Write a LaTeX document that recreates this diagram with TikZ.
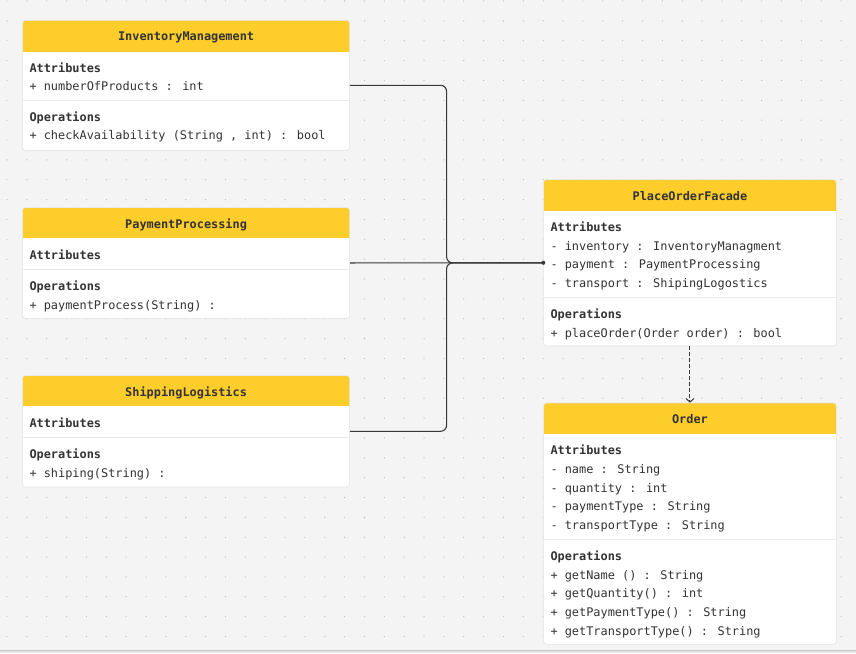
\documentclass[tikz,border=0pt]{standalone}
\usepackage{fontspec}
\newfontfamily\umlfont{DejaVu Sans Mono}
\usetikzlibrary{calc,arrows.meta}

\definecolor{canvas}{HTML}{F4F4F4}
\definecolor{gridDot}{HTML}{BDBDBD}
\definecolor{hdr}{HTML}{FDCD2B}
\definecolor{boxline}{HTML}{E3E3E3}
\definecolor{divline}{HTML}{EBEBEB}
\definecolor{ink}{HTML}{333333}
\definecolor{wire}{HTML}{383838}
\definecolor{footer}{HTML}{E4E4E4}

\tikzset{
  % class box: #1 height, #2 header height, #3 offset of the divider line
  umlclass/.style n args={3}{
    draw=boxline, line width=0.6pt, fill=white, rounded corners=3pt,
    anchor=north west, inner sep=0pt, minimum height=#1,
    path picture={
      \fill[hdr, sharp corners] (path picture bounding box.north west)
        rectangle ([yshift=-#2]path picture bounding box.north east);
      \draw[divline, line width=1pt, sharp corners]
        ([yshift=-#3]path picture bounding box.north west)
        -- ([yshift=-#3]path picture bounding box.north east);
    }},
  classtitle/.style={anchor=base, inner sep=0pt, text=ink,
    font=\umlfont\bfseries\fontsize{11.9}{14}\selectfont},
  heading/.style={anchor=base west, inner sep=0pt, text=ink,
    font=\umlfont\bfseries\fontsize{11.9}{14}\selectfont},
  member/.style={anchor=base west, inner sep=0pt, text=ink,
    font=\umlfont\fontsize{11.9}{14}\selectfont},
  wireline/.style={draw=wire, line width=1.1pt},
  usesdep/.style={draw=wire, line width=1pt, dash pattern=on 4pt off 2pt,
    -{Straight Barb[length=3.5pt,width=8pt]}},
}

% section heading of a class box: box, heading text, baseline offset
\newcommand\umlheading[3]{%
  \node[heading] (#1-#2) at ($(#1.north west)+(7,#3)$) {#2};}
% member lines below a heading: box, heading, heading offset, list
\newcommand\umllines[4]{%
  \foreach \t [count=\i] in {#4} {%
    \node[member] (#1-#2-\i) at ($(#1.north west)+(7,#3+18.7*\i)$) {\t};}}

\begin{document}
\begin{tikzpicture}[x=1pt,y=-1pt]
  \useasboundingbox (0,0) rectangle (856,653);

  % dotted canvas
  \fill[canvas] (0,0) rectangle (856,653);
  \foreach \i in {0,...,42} {
    \foreach \j in {0,...,32} {
      \fill[gridDot] (7+19.86*\i, 1+19.86*\j) circle (0.65pt);
    }
  }
  \fill[footer] (0,650) rectangle (856,653);
  \draw[draw=footer!85!black, line width=0.6pt] (0,650) -- (856,650);

  % ---- InventoryManagement
  \node[umlclass={130pt}{31.5pt}{80pt}, minimum width=327pt] (inv) at (22.3,20) {};
  \node[classtitle] (inv-title) at ($(inv.north)+(0,20.8)$) {InventoryManagement};
  \umlheading{inv}{Attributes}{52}
  \umllines{inv}{Attributes}{52}{{+ numberOfProducts : int}}
  \umlheading{inv}{Operations}{101}
  \umllines{inv}{Operations}{101}{{+ checkAvailability (String , int) : bool}}

  % ---- PaymentProcessing
  \node[umlclass={110.7pt}{30.8pt}{62pt}, minimum width=327pt] (pay) at (22.3,207.3) {};
  \node[classtitle] (pay-title) at ($(pay.north)+(0,20.8)$) {PaymentProcessing};
  \umlheading{pay}{Attributes}{52}
  \umlheading{pay}{Operations}{83}
  \umllines{pay}{Operations}{83}{{+ paymentProcess(String) :}}

  % ---- ShippingLogistics
  \node[umlclass={111.4pt}{30.8pt}{62pt}, minimum width=327pt] (ship) at (22.3,375.3) {};
  \node[classtitle] (ship-title) at ($(ship.north)+(0,20.8)$) {ShippingLogistics};
  \umlheading{ship}{Attributes}{52}
  \umlheading{ship}{Operations}{83}
  \umllines{ship}{Operations}{83}{{+ shiping(String) :}}

  % ---- PlaceOrderFacade
  \node[umlclass={166.4pt}{31.3pt}{118pt}, minimum width=292.7pt] (facade) at (543.3,179.3) {};
  \node[classtitle] (facade-title) at ($(facade.north)+(0,20.8)$) {PlaceOrderFacade};
  \umlheading{facade}{Attributes}{52}
  \umllines{facade}{Attributes}{52}{{- inventory : InventoryManagment},
    {- payment : PaymentProcessing},{- transport : ShipingLogostics}}
  \umlheading{facade}{Operations}{139}
  \umllines{facade}{Operations}{139}{{+ placeOrder(Order order) : bool}}

  % ---- Order
  \node[umlclass={241.3pt}{31pt}{136.6pt}, minimum width=292.7pt] (order) at (543.3,402.7) {};
  \node[classtitle] (order-title) at ($(order.north)+(0,20.8)$) {Order};
  \umlheading{order}{Attributes}{52}
  \umllines{order}{Attributes}{52}{{- name : String},{- quantity : int},
    {- paymentType : String},{- transportType : String}}
  \umlheading{order}{Operations}{157.6}
  \umllines{order}{Operations}{157.6}{{+ getName () : String},
    {+ getQuantity() : int},{+ getPaymentType() : String},
    {+ getTransportType() : String}}

  % ---- connectors
  \coordinate (hub) at ($(pay.east)!0.5!(facade.west)$);
  \draw[wireline, rounded corners=6pt] (inv.east) -| (hub) -- (facade.west);
  \draw[wireline, rounded corners=6pt] (ship.east) -| (hub) -- (facade.west);
  \draw[wireline] (pay.east) -- (facade.west);
  \fill[wire] (facade.west) circle (2pt);

  \draw[usesdep] (facade.south) -- (order.north);
\end{tikzpicture}
\end{document}
